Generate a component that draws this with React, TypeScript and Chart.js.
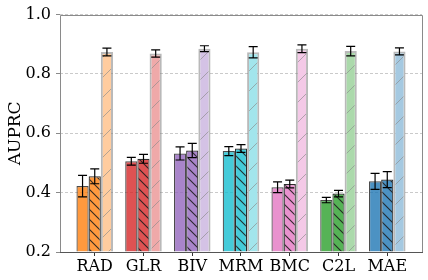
import React, { useEffect, useRef } from "react";
import { Chart, registerables } from "chart.js";

Chart.register(...registerables);

const categories = ["RAD", "GLR", "BIV", "MRM", "BMC", "C2L", "MAE"];
const solidValues = [0.422, 0.506, 0.532, 0.54, 0.418, 0.375, 0.438];
const solidErrors = [0.036, 0.013, 0.022, 0.015, 0.018, 0.009, 0.027];
const hatchValues = [0.455, 0.514, 0.542, 0.549, 0.429, 0.397, 0.444];
const hatchErrors = [0.025, 0.015, 0.024, 0.013, 0.013, 0.011, 0.027];
const lightValues = [0.874, 0.869, 0.885, 0.873, 0.885, 0.877, 0.876];
const lightErrors = [0.013, 0.012, 0.01, 0.019, 0.013, 0.016, 0.012];
const yTicks = [0.2, 0.4, 0.6, 0.8, 1.0];

const baseColors = ["#ff7f0e", "#d62728", "#9467bd", "#17becf", "#e377c2", "#2ca02c", "#1f77b4"];

function rgba(hex: string, a: number) {
  const r = parseInt(hex.slice(1, 3), 16);
  const g = parseInt(hex.slice(3, 5), 16);
  const b = parseInt(hex.slice(5, 7), 16);
  return `rgba(${r},${g},${b},${a})`;
}

function makePattern(bg: string, line: string, size: number, dir: string, lw: number) {
  const c = document.createElement("canvas");
  c.width = size;
  c.height = size;
  const g = c.getContext("2d")!;
  g.fillStyle = "#fff";
  g.fillRect(0, 0, size, size);
  g.fillStyle = bg;
  g.fillRect(0, 0, size, size);
  g.strokeStyle = line;
  g.lineWidth = lw;
  g.beginPath();
  if (dir === "\\") {
    g.moveTo(-2, -2);
    g.lineTo(size + 2, size + 2);
    g.moveTo(-2, size - 2);
    g.lineTo(2, size + 2);
    g.moveTo(size - 2, -2);
    g.lineTo(size + 2, 2);
  } else {
    g.moveTo(-2, size + 2);
    g.lineTo(size + 2, -2);
    g.moveTo(-2, 2);
    g.lineTo(2, -2);
    g.moveTo(size - 2, size + 2);
    g.lineTo(size + 2, size - 2);
  }
  g.stroke();
  return g.createPattern(c, "repeat")!;
}

const errorBarPlugin = {
  id: "errorBars",
  afterDatasetsDraw(chart: any) {
    const ctx = chart.ctx;
    const yScale = chart.scales.y;
    chart.data.datasets.forEach((ds: any, di: number) => {
      const meta = chart.getDatasetMeta(di);
      meta.data.forEach((el: any, i: number) => {
        const v = ds.data[i].y;
        const e = ds.errors[i];
        const yt = yScale.getPixelForValue(v + e);
        const yb = yScale.getPixelForValue(v - e);
        const x = el.x;
        ctx.save();
        ctx.strokeStyle = "#000";
        ctx.lineWidth = 1.2;
        ctx.beginPath();
        ctx.moveTo(x, yt);
        ctx.lineTo(x, yb);
        ctx.moveTo(x - 4.5, yt);
        ctx.lineTo(x + 4.5, yt);
        ctx.moveTo(x - 4.5, yb);
        ctx.lineTo(x + 4.5, yb);
        ctx.stroke();
        ctx.restore();
      });
    });
  },
};

const framePlugin = {
  id: "frame",
  afterDatasetsDraw(chart: any) {
    const { left, right, top, bottom } = chart.chartArea;
    const ctx = chart.ctx;
    ctx.save();
    ctx.lineWidth = 1;
    ctx.strokeStyle = "#8a8a8a";
    ctx.beginPath();
    ctx.moveTo(Math.round(left) + 0.5, Math.round(bottom) + 0.5);
    ctx.lineTo(Math.round(left) + 0.5, Math.round(top) + 0.5);
    ctx.lineTo(Math.round(right) + 0.5, Math.round(top) + 0.5);
    ctx.lineTo(Math.round(right) + 0.5, Math.round(bottom) + 0.5);
    ctx.stroke();
    ctx.strokeStyle = "#555";
    ctx.beginPath();
    ctx.moveTo(Math.round(left), Math.round(bottom) + 0.5);
    ctx.lineTo(Math.round(right) + 1, Math.round(bottom) + 0.5);
    ctx.stroke();
    ctx.restore();
  },
};

export default function App() {
  const ref = useRef<HTMLCanvasElement>(null);
  useEffect(() => {
    const canvas = ref.current!;
    const solidFill = baseColors.map((c) => rgba(c, 0.8));
    const hatchFill = baseColors.map((c) => makePattern(rgba(c, 0.8), "rgba(30,30,30,0.9)", 10, "\\", 1.1));
    const lightFill = baseColors.map((c) => makePattern(rgba(c, 0.4), "rgba(140,140,140,0.65)", 20, "/", 1));
    const font = "'DejaVu Serif', serif";
    const chart = new Chart(canvas, {
      type: "bar",
      data: {
        datasets: [
          {
            data: categories.map((_, i) => ({ x: i, y: solidValues[i] })),
            errors: solidErrors,
            backgroundColor: solidFill,
            borderColor: "rgba(30,30,30,0.8)",
            borderWidth: 1.2,
            base: 0.2,
          } as any,
          {
            data: categories.map((_, i) => ({ x: i, y: hatchValues[i] })),
            errors: hatchErrors,
            backgroundColor: hatchFill,
            borderColor: "rgba(20,20,20,0.9)",
            borderWidth: 1.2,
            base: 0.2,
          } as any,
          {
            data: categories.map((_, i) => ({ x: i, y: lightValues[i] })),
            errors: lightErrors,
            backgroundColor: lightFill,
            borderColor: "rgba(128,128,128,0.55)",
            borderWidth: 2,
            base: 0.2,
          } as any,
        ],
      },
      options: {
        animation: false,
        responsive: false,
        layout: { padding: { top: 13, right: 6, left: 0, bottom: 0 } },
        plugins: { legend: { display: false }, tooltip: { enabled: false } },
        datasets: { bar: { categoryPercentage: 0.75, barPercentage: 1 } },
        scales: {
          x: {
            type: "linear",
            offset: false,
            min: -0.7125,
            max: 6.7125,
            afterBuildTicks: (scale: any) => {
              scale.ticks = categories.map((_, i) => ({ value: i }));
            },
            afterFit: (scale: any) => {
              scale.height = 28;
            },
            ticks: {
              autoSkip: false,
              maxRotation: 0,
              padding: 1,
              color: "#000",
              font: { family: font, size: 16 },
              callback: (v: any) => categories[Math.round(v)] ?? "",
            },
            grid: {
              display: true,
              offset: false,
              drawOnChartArea: false,
              drawTicks: true,
              tickLength: 4,
              tickColor: "#333",
              tickWidth: 1,
            },
            border: { display: false },
          },
          y: {
            type: "linear",
            min: 0.2,
            max: 1.0,
            afterBuildTicks: (scale: any) => {
              scale.ticks = yTicks.map((v) => ({ value: v }));
            },
            afterFit: (scale: any) => {
              scale.width = 60;
            },
            ticks: {
              padding: 5,
              color: "#000",
              font: { family: font, size: 16 },
              callback: (v: any) => Number(v).toFixed(1),
            },
            grid: {
              color: "rgba(180,180,180,0.7)",
              lineWidth: 1,
              tickLength: 4,
              tickColor: "#8a8a8a",
              tickWidth: 1,
            },
            border: { display: false, dash: [3, 2] },
            title: {
              display: true,
              text: "AUPRC",
              color: "#000",
              font: { family: font, size: 17 },
              padding: { top: 5, bottom: 0 },
            },
          },
        },
      },
      plugins: [framePlugin, errorBarPlugin],
    } as any);
    return () => chart.destroy();
  }, []);
  return (
    <div style={{ position: "absolute", left: 0, top: 0, width: 428, height: 280 }}>
      <canvas ref={ref} width={428} height={280} />
    </div>
  );
}
